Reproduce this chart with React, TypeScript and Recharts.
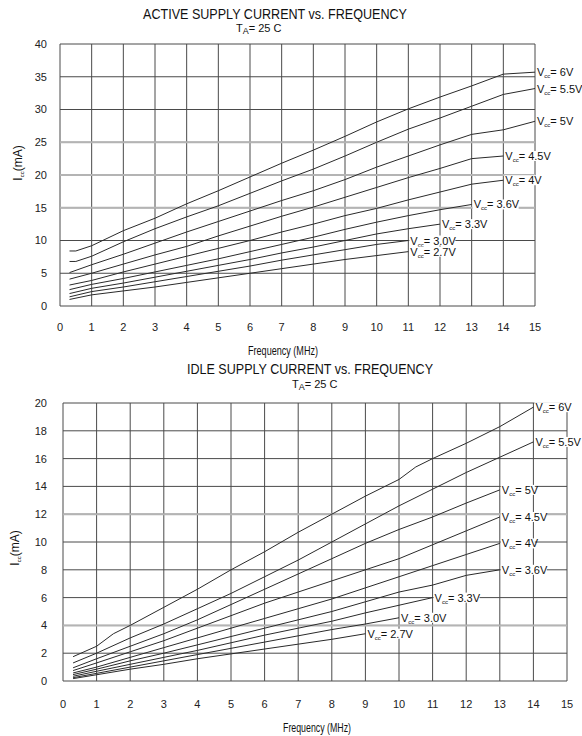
import React from 'react';
import { LineChart, Line, XAxis, YAxis, CartesianGrid, ReferenceLine } from 'recharts';

// axis ticks
const freqTicks = [0, 1, 2, 3, 4, 5, 6, 7, 8, 9, 10, 11, 12, 13, 14, 15];
const activeTicks = [0, 5, 10, 15, 20, 25, 30, 35, 40];
const idleTicks = [0, 2, 4, 6, 8, 10, 12, 14, 16, 18, 20];

// active supply current (mA)
const activeFreq = [0.3, 0.5, 1, 2, 3, 4, 5, 6, 7, 8, 9, 10, 11, 12, 13, 14, 15];
const active6V = [8.4, 8.4, 9.2, 11.5, 13.4, 15.6, 17.6, 19.7, 21.8, 23.8, 25.9, 28.1, 30.1, 31.9, 33.6, 35.4, 35.7];
const active55V = [6.8, 6.8, 7.6, 9.8, 11.8, 13.6, 15.3, 17.2, 19.1, 20.9, 22.9, 25.0, 27.0, 28.7, 30.5, 32.3, 33.2];
const active5V = [5.1, null, 6.3, 7.9, 9.6, 11.3, 12.9, 14.5, 16.1, 17.6, 19.3, 21.2, 22.9, 24.6, 26.2, 26.9, 28.2];
const active45V = [4.1, null, 5.0, 6.4, 7.8, 9.1, 10.7, 12.2, 13.7, 15.1, 16.6, 18.1, 19.6, 21.0, 22.5, 22.9];
const active4V = [3.2, null, 3.9, 5.2, 6.4, 7.6, 8.8, 10.0, 11.3, 12.5, 13.8, 14.9, 16.2, 17.4, 18.6, 19.2];
const active36V = [2.5, null, 3.3, 4.2, 5.2, 6.2, 7.2, 8.3, 9.4, 10.5, 11.7, 12.8, 13.8, 14.7, 15.5];
const active33V = [1.9, null, 2.7, 3.5, 4.4, 5.3, 6.2, 7.1, 8.1, 9.0, 10.0, 11.0, 11.8, 12.5];
const active30V = [1.4, null, 2.2, 2.9, 3.7, 4.5, 5.3, 6.1, 7.0, 7.8, 8.6, 9.4, 10.0];
const active27V = [1.0, null, 1.7, 2.3, 2.9, 3.6, 4.3, 5.0, 5.7, 6.4, 7.1, 7.7, 8.3];

// idle supply current (mA)
const idleFreq = [0.3, 1, 1.5, 2, 3, 4, 5, 6, 7, 8, 9, 10, 10.5, 11, 12, 13, 14];
const idle6V = [1.75, 2.5, 3.4, 4.0, 5.3, 6.6, 8.0, 9.3, 10.7, 12.0, 13.3, 14.5, 15.4, 16.0, 17.1, 18.3, 19.7];
const idle55V = [1.3, 2.0, null, 3.1, 4.1, 5.2, 6.3, 7.5, 8.7, 10.0, 11.3, 12.6, null, 13.8, 15.0, 16.1, 17.2];
const idle5V = [0.95, 1.6, null, 2.5, 3.4, 4.4, 5.5, 6.6, 7.7, 8.8, 9.9, 10.9, null, 11.8, 12.8, 13.75];
const idle45V = [0.75, 1.3, null, 2.1, 2.9, 3.8, 4.7, 5.6, 6.4, 7.2, 8.0, 8.8, null, 9.8, 10.8, 11.8];
const idle4V = [0.58, 1.0, null, 1.7, 2.4, 3.1, 3.8, 4.5, 5.2, 5.9, 6.7, 7.5, null, 8.3, 9.1, 9.9];
const idle36V = [0.46, 0.85, null, 1.45, 2.0, 2.6, 3.2, 3.8, 4.4, 5.0, 5.7, 6.4, null, 6.9, 7.6, 8.0];
const idle33V = [0.34, 0.7, null, 1.2, 1.7, 2.2, 2.75, 3.3, 3.8, 4.3, 4.9, 5.45, null, 6.0];
const idle30V = [0.24, 0.55, null, 1.0, 1.45, 1.9, 2.35, 2.8, 3.25, 3.7, 4.1, 4.55];
const idle27V = [0.17, 0.45, null, 0.85, 1.2, 1.6, 1.95, 2.3, 2.65, 3.0, 3.4];

const activeSeries = [
  { key: 'v6', name: '6V', values: active6V },
  { key: 'v55', name: '5.5V', values: active55V },
  { key: 'v5', name: '5V', values: active5V },
  { key: 'v45', name: '4.5V', values: active45V },
  { key: 'v4', name: '4V', values: active4V },
  { key: 'v36', name: '3.6V', values: active36V },
  { key: 'v33', name: '3.3V', values: active33V },
  { key: 'v30', name: '3.0V', values: active30V },
  { key: 'v27', name: '2.7V', values: active27V },
];

const idleSeries = [
  { key: 'v6', name: '6V', values: idle6V },
  { key: 'v55', name: '5.5V', values: idle55V },
  { key: 'v5', name: '5V', values: idle5V },
  { key: 'v45', name: '4.5V', values: idle45V },
  { key: 'v4', name: '4V', values: idle4V },
  { key: 'v36', name: '3.6V', values: idle36V },
  { key: 'v33', name: '3.3V', values: idle33V },
  { key: 'v30', name: '3.0V', values: idle30V },
  { key: 'v27', name: '2.7V', values: idle27V },
];

type Series = { key: string; name: string; values: (number | null)[] };

const buildRows = (freq: number[], series: Series[]) =>
  freq.map((f, i) => {
    const row: Record<string, number | null> = { f };
    series.forEach((s) => {
      row[s.key] = i < s.values.length ? s.values[i] : null;
    });
    return row;
  });

const activeData = buildRows(activeFreq, activeSeries);
const idleData = buildRows(idleFreq, idleSeries);

const NARROW = "'Liberation Sans Narrow', 'Arial Narrow', 'Liberation Sans', Arial, sans-serif";
const SANS = "'Liberation Sans', Arial, sans-serif";
const GRID = '#4a4a4a';
const LIGHT = '#b4b4b4';
const INK = '#2a2a2a';

// "Vcc= x" tag drawn at the end of each curve
const endLabel = (text: string, last: number) => (props: any) => {
  const { x, y, index } = props;
  if (index !== last || x == null || y == null) return <g />;
  const w = 22 + text.length * 6;
  return (
    <g>
      <rect x={x + 1} y={y - 5} width={w} height={10} fill="#fff" />
      <text x={x + 2} y={y + 4} fontSize={11} fontFamily={SANS} fill="#111">
        V
        <tspan fontSize={6} dy={2}>cc</tspan>
        <tspan dy={-2}>= {text}</tspan>
      </text>
    </g>
  );
};

const tickStyle = { fontSize: 11, fontFamily: SANS, fill: '#222' };

const App = () => {
  return (
    <div style={{ position: 'absolute', left: 0, top: 0, width: 582, height: 736, background: '#fff' }}>
      <div style={{ position: 'absolute', left: 0, top: 0 }}>
        <LineChart width={582} height={360} data={activeData} margin={{ top: 44, right: 47, bottom: 24, left: 0 }}>
          <CartesianGrid stroke={GRID} />
          <XAxis
            type="number"
            dataKey="f"
            domain={[0, 15]}
            ticks={freqTicks}
            axisLine={false}
            tickLine={false}
            tickSize={0}
            tickMargin={17}
            height={30}
            tick={tickStyle}
            interval={0}
          />
          <YAxis
            type="number"
            domain={[0, 40]}
            ticks={activeTicks}
            axisLine={false}
            tickLine={false}
            tickSize={0}
            tickMargin={13}
            width={60}
            tick={tickStyle}
            interval={0}
          />
          {[15, 20, 25].map((v) => (
            <ReferenceLine key={v} y={v} stroke={LIGHT} strokeWidth={2} />
          ))}
          {activeSeries.map((s) => (
            <Line
              key={s.key}
              type="linear"
              dataKey={s.key}
              stroke={INK}
              strokeWidth={1}
              dot={false}
              connectNulls
              isAnimationActive={false}
              label={endLabel(s.name, s.values.length - 1)}
            />
          ))}
        </LineChart>
      </div>
      <div style={{ position: 'absolute', left: 0, top: 360 }}>
        <LineChart width={582} height={376} data={idleData} margin={{ top: 43, right: 15, bottom: 25, left: 0 }}>
          <CartesianGrid stroke={GRID} />
          <XAxis
            type="number"
            dataKey="f"
            domain={[0, 15]}
            ticks={freqTicks}
            axisLine={false}
            tickLine={false}
            tickSize={0}
            tickMargin={19}
            height={30}
            tick={tickStyle}
            interval={0}
          />
          <YAxis
            type="number"
            domain={[0, 20]}
            ticks={idleTicks}
            axisLine={false}
            tickLine={false}
            tickSize={0}
            tickMargin={16}
            width={63}
            tick={tickStyle}
            interval={0}
          />
          {[4, 12].map((v) => (
            <ReferenceLine key={v} y={v} stroke={LIGHT} strokeWidth={2} />
          ))}
          {idleSeries.map((s) => (
            <Line
              key={s.key}
              type="linear"
              dataKey={s.key}
              stroke={INK}
              strokeWidth={1}
              dot={false}
              connectNulls
              isAnimationActive={false}
              label={endLabel(s.name, s.values.length - 1)}
            />
          ))}
        </LineChart>
      </div>
      <svg
        width={582}
        height={736}
        style={{ position: 'absolute', left: 0, top: 0, pointerEvents: 'none' }}
        fontFamily={NARROW}
        fill="#111"
      >
        <text x={275} y={19} fontSize={15} textAnchor="middle" textLength={264} lengthAdjust="spacingAndGlyphs">
          ACTIVE SUPPLY CURRENT vs. FREQUENCY
        </text>
        <text x={236} y={32} fontSize={11}>
          T<tspan fontSize={9} dy={2}>A</tspan>
          <tspan dy={-2}>= 25 C</tspan>
        </text>
        <text x={248} y={355} fontSize={12} textLength={70} lengthAdjust="spacingAndGlyphs">
          Frequency (MHz)
        </text>
        <text transform="translate(22,163) rotate(-90)" fontSize={12} textAnchor="middle">
          I<tspan fontSize={6} dy={2}>cc</tspan>
          <tspan dy={-2}>(mA)</tspan>
        </text>

        <text x={310} y={374} fontSize={15} textAnchor="middle" textLength={246} lengthAdjust="spacingAndGlyphs">
          IDLE SUPPLY CURRENT vs. FREQUENCY
        </text>
        <text x={292} y={388} fontSize={11}>
          T<tspan fontSize={9} dy={2}>A</tspan>
          <tspan dy={-2}>= 25 C</tspan>
        </text>
        <text x={283} y={732} fontSize={12} textLength={68} lengthAdjust="spacingAndGlyphs">
          Frequency (MHz)
        </text>
        <text transform="translate(19,548) rotate(-90)" fontSize={12} textAnchor="middle">
          I<tspan fontSize={6} dy={2}>cc</tspan>
          <tspan dy={-2}>(mA)</tspan>
        </text>
      </svg>
    </div>
  );
};

export default App;
